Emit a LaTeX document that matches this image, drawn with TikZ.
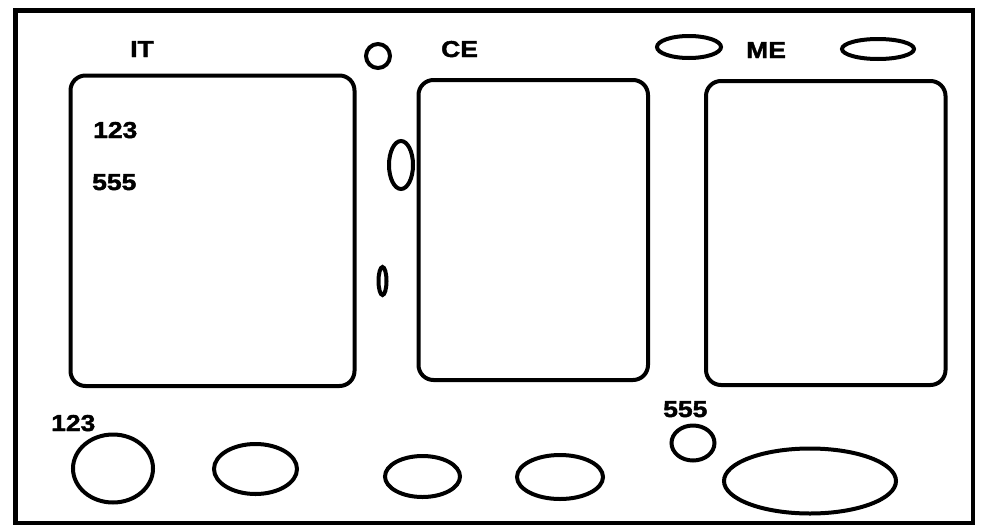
\documentclass[tikz,border=0pt]{standalone}
\usepackage{fontspec}
\setmainfont{Liberation Sans}[FakeStretch=1.15,FakeBold=1.8]
\usetikzlibrary{shapes.geometric}
\begin{document}
\begin{tikzpicture}[x=1pt,y=-1pt,
  lbl/.style={anchor=base west,inner sep=0pt,font=\fontsize{23}{23}\selectfont\bfseries},
  blob/.style={draw,ellipse,line width=4pt,inner sep=0pt,outer sep=0pt,minimum width=#1},
  roundbox/.style={draw,line width=4pt,rounded corners=15pt}]
\useasboundingbox (0,0) rectangle (984,530);
\draw[line width=4.5pt] (15.5,10.5) rectangle (973,523);
% boxes
\draw[roundbox] (70.5,75.5) rectangle (354.5,386);
\draw[roundbox] (418.5,80) rectangle (648,380);
\draw[roundbox] (706,81) rectangle (945.5,385);
% labels
\node[lbl] (it) at (130,57) {IT};
\node[lbl] (ce) at (441,57) {CE};
\node[lbl] (me) at (746,58) {ME};
\node[lbl] (a123) at (93,138) {123};
\node[lbl] (a555) at (92,190) {555};
\node[lbl] (b123) at (51,431) {123};
\node[lbl] (b555) at (663,417) {555};
% top shapes
\node[blob=24pt,minimum height=24pt] (c1) at (378,56) {};
\node[blob=24pt,minimum height=48pt] (e1) at (401,165) {};
\node[blob=8pt,minimum height=28pt] (e2) at (382.5,281) {};
\node[blob=64pt,minimum height=22pt] (e3) at (689,47) {};
\node[blob=72pt,minimum height=20pt] (e4) at (878,49) {};
% bottom shapes
\node[blob=80pt,minimum height=68pt] (f1) at (113,468.5) {};
\node[blob=83pt,minimum height=50pt] (f2) at (255.5,469) {};
\node[blob=75pt,minimum height=41pt] (f3) at (422.5,476.5) {};
\node[blob=86pt,minimum height=44pt] (f4) at (560,477) {};
\node[blob=43pt,minimum height=35pt] (f5) at (693,443) {};
\node[blob=172pt,minimum height=65pt] (f6) at (810,481) {};
\end{tikzpicture}
\end{document}
